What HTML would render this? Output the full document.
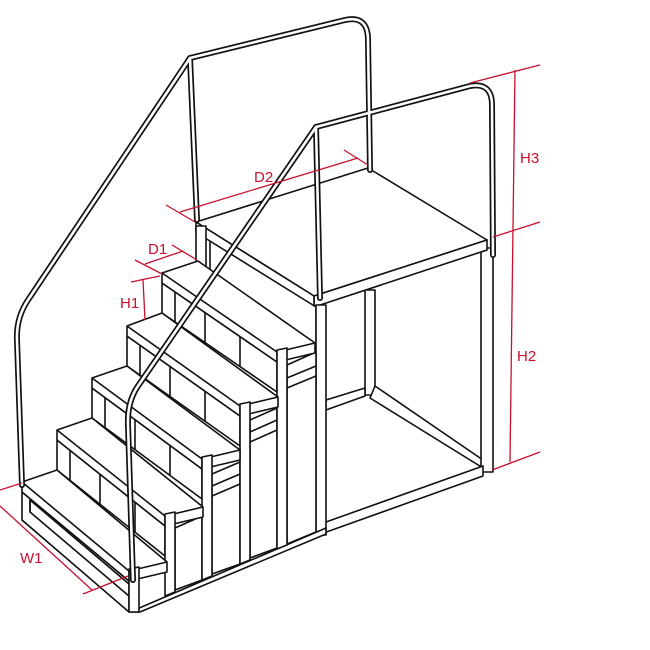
<!DOCTYPE html>
<html><head><meta charset="utf-8"><style>
html,body{margin:0;padding:0;background:#fff}
svg{display:block}
text{font-family:"Liberation Sans",sans-serif;font-size:15px;fill:#c8102e}
</style></head><body>
<svg width="650" height="650" viewBox="0 0 650 650" xmlns="http://www.w3.org/2000/svg">
<g fill="#fff" stroke="#111" stroke-width="1.6" stroke-linejoin="round">
<!-- platform frame -->
<rect x="365" y="290" width="10" height="105"/>
<polygon points="375,386 483,460 483,468 370,398"/>
<polygon points="326,400 365,388 365,396 326,410"/>
<rect x="481" y="248" width="12" height="224"/>
<polygon points="326,522 483,466 483,476 318,535"/>
<!-- platform -->
<polygon points="196,222 368,168 487,240 314,296"/>
<polygon points="314,296 487,240 487,250 314,307"/>
<polygon points="196,222 314,296 314,307 196,233"/>
<polygon points="197,233 316,307 316,345 197,262"/>
<rect x="196" y="226" width="10" height="40"/>
<line x1="210" y1="241" x2="210" y2="270"/>
<rect x="316" y="305" width="10" height="230"/>

<!-- ground lines -->
<polygon points="130,612 326,528 326,534 140,612"/>
<line x1="22" y1="520" x2="130" y2="612"/>

<!-- side panels -->
<polygon points="287,365 316,352 316,532 287,544"/>
<line x1="287" y1="378" x2="316" y2="366"/><line x1="287" y1="388" x2="316" y2="376"/>
<polygon points="250,420 277,408 277,548 250,558"/>
<line x1="250" y1="432" x2="277" y2="420"/><line x1="250" y1="442" x2="277" y2="430"/>
<polygon points="212,474 240,462 240,564 212,574"/>
<line x1="212" y1="486" x2="240" y2="474"/><line x1="212" y1="496" x2="240" y2="484"/>
<polygon points="175,528 202,516 202,580 175,590"/>

<!-- step 5 riser + tread + post -->
<polygon points="162,283 277,362 277,392 162,313"/>
<line x1="175" y1="292" x2="175" y2="322"/><line x1="205" y1="313" x2="205" y2="343"/><line x1="240" y1="337" x2="240" y2="367"/>
<polygon points="162,273 198,261 315,343 315,353 277,362 162,283"/>
<line x1="162" y1="273" x2="277" y2="352"/><line x1="277" y1="352" x2="315" y2="343"/><line x1="277" y1="352" x2="277" y2="362"/>
<polygon points="277,350 287,348 287,545 277,549"/>
<!-- step 4 -->
<polygon points="127,336 240,416 240,446 127,366"/>
<line x1="140" y1="345" x2="140" y2="375"/><line x1="170" y1="366" x2="170" y2="396"/><line x1="205" y1="391" x2="205" y2="421"/>
<polygon points="127,326 162,313 278,397 278,407 240,416 127,336"/>
<line x1="127" y1="326" x2="240" y2="406"/><line x1="240" y1="406" x2="278" y2="397"/><line x1="240" y1="406" x2="240" y2="416"/>
<polygon points="240,404 250,402 250,560 240,564"/>
<!-- step 3 -->
<polygon points="92,388 202,469 202,499 92,418"/>
<line x1="105" y1="397" x2="105" y2="427"/><line x1="135" y1="419" x2="135" y2="449"/><line x1="170" y1="445" x2="170" y2="475"/>
<polygon points="92,378 127,366 240,450 240,460 202,469 92,388"/>
<line x1="92" y1="378" x2="202" y2="459"/><line x1="202" y1="459" x2="240" y2="450"/><line x1="202" y1="459" x2="202" y2="469"/>
<polygon points="202,457 212,455 212,576 202,580"/>
<!-- step 2 -->
<polygon points="57,440 165,526 165,556 57,470"/>
<line x1="70" y1="450" x2="70" y2="480"/><line x1="100" y1="474" x2="100" y2="504"/><line x1="135" y1="502" x2="135" y2="532"/>
<polygon points="57,430 92,418 203,507 203,517 165,526 57,440"/>
<line x1="57" y1="430" x2="165" y2="516"/><line x1="165" y1="516" x2="203" y2="507"/><line x1="165" y1="516" x2="165" y2="526"/>
<polygon points="165,514 175,512 175,592 165,596"/>
<!-- step 1 box -->
<polygon points="22,492 129,581 129,612 22,520"/>
<polygon points="30,500 129,584 129,596 30,512"/>
<line x1="30" y1="500" x2="30" y2="512"/>
<polygon points="22,482 57,470 167,562 167,572 129,581 22,492"/>
<line x1="22" y1="482" x2="129" y2="571"/><line x1="129" y1="571" x2="167" y2="562"/><line x1="129" y1="571" x2="129" y2="581"/>
<polygon points="129,569 139,567 139,612 129,612"/>
</g>
<!-- handrails -->
<g fill="none" stroke-linecap="round" stroke-linejoin="round">
<g stroke="#111" stroke-width="6">
<path d="M22,485 L17,340 Q16,318 28,300 L190,58 L345,20 Q368,15 368,40 L370,170"/>
<path d="M190,58 L197,220"/>
<path d="M133,580 L128,425 Q127,402 138,386 L316,127 L470,86 Q492,82 492,105 L493,255"/>
<path d="M316,127 L320,298"/>
</g>
<g stroke="#fff" stroke-width="2.6">
<path d="M22,485 L17,340 Q16,318 28,300 L190,58 L345,20 Q368,15 368,40 L370,170"/>
<path d="M190,58 L197,220"/>
<path d="M133,580 L128,425 Q127,402 138,386 L316,127 L470,86 Q492,82 492,105 L493,255"/>
<path d="M316,127 L320,298"/>
</g>
</g>
<!-- dimensions -->
<g stroke="#c8102e" stroke-width="1.3" fill="none">
<line x1="470" y1="83" x2="540" y2="65"/>
<line x1="493" y1="237" x2="540" y2="222"/>
<line x1="492" y1="470" x2="540" y2="452"/>
<line x1="515" y1="70" x2="510" y2="462"/>
<line x1="166" y1="205" x2="195" y2="222"/>
<line x1="344" y1="150" x2="368" y2="165"/>
<line x1="180" y1="212" x2="358" y2="158"/>
<line x1="135" y1="260" x2="162" y2="274"/>
<line x1="172" y1="245" x2="197" y2="260"/>
<line x1="145" y1="264" x2="183" y2="251"/>
<line x1="131" y1="282" x2="160" y2="276"/>
<line x1="143" y1="280" x2="145" y2="320"/>
<line x1="0" y1="490" x2="22" y2="483"/>
<line x1="0" y1="506" x2="92" y2="590"/>
<line x1="83" y1="594" x2="128" y2="576"/>
</g>
<text x="520" y="163">H3</text>
<text x="517" y="361">H2</text>
<text x="254" y="182">D2</text>
<text x="148" y="254">D1</text>
<text x="120" y="308">H1</text>
<text x="20" y="563">W1</text>
</svg>
</body></html>
